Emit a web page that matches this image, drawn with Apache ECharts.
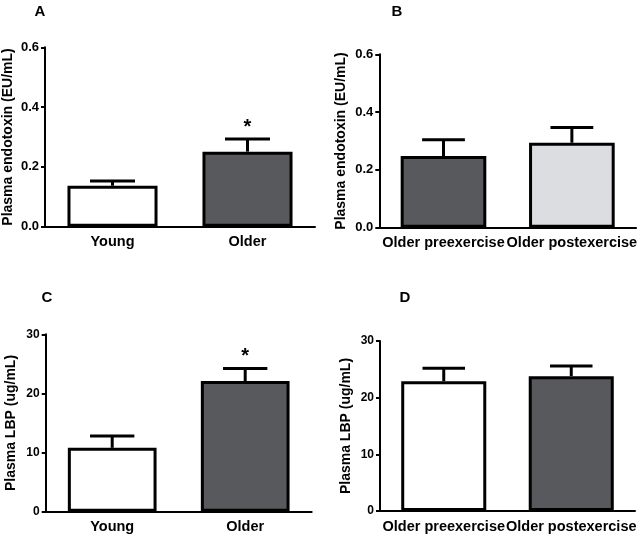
<!DOCTYPE html>
<html>
<head>
<meta charset="utf-8">
<script src="https://cdn.jsdelivr.net/npm/echarts@6/dist/echarts.min.js"></script>
<style>html,body{margin:0;padding:0;background:#fff}#c{width:640px;height:538px}</style>
</head>
<body>
<div id="c"></div>
<script>
// ---- data ----
var catsAC = ['Young', 'Older'];
var catsBD = ['Older preexercise', 'Older postexercise'];
var endoA = [0.137, 0.251];
var endoAErr = [0.016, 0.042];
var endoB = [0.248, 0.294];
var endoBErr = [0.056, 0.053];
var lbpC = [10.8, 22.1];
var lbpCErr = [2.0, 2.1];
var lbpD = [22.9, 23.8];
var lbpDErr = [2.3, 1.8];
var sigA = ['', '*'];
var sigC = ['', '*'];
var sigNone = ['', ''];
var ticksEndo = [0, 0.6, 0.2];
var ticksLbp = [0, 30, 10];
var panelLetters = ['A', 'B', 'C', 'D'];
var titleEndo = 'Plasma endotoxin (EU/mL)';
var titleLbp = 'Plasma LBP (ug/mL)';

// ---- styles ----
var FONT = '"Liberation Sans", Arial, Helvetica, sans-serif';
var WHITE = '#ffffff', DARK = '#58595c', LIGHT = '#dcdde0';
var fillA = [WHITE, DARK], fillB = [DARK, LIGHT], fillC = [WHITE, DARK], fillD = [WHITE, DARK];

var grids = [
  {left: 45, top: 47.3, width: 270, height: 179.4},
  {left: 379.3, top: 54.3, width: 257.4, height: 173.4},
  {left: 45.7, top: 334.3, width: 266, height: 177.4},
  {left: 380, top: 341, width: 255, height: 170}
];

function xAxisFor(i, cats) {
  return {
    type: 'category', gridIndex: i, data: cats,
    axisLine: {lineStyle: {color: '#000', width: 2}},
    axisTick: {show: false},
    axisLabel: {color: '#000', fontFamily: FONT, fontWeight: 'bold', fontSize: 14.5, margin: 8,
      interval: 0, hideOverlap: false}
  };
}
function yAxisFor(i, t, title, gap, fs, dec) {
  return {
    type: 'value', gridIndex: i, min: t[0], max: t[1], interval: t[2],
    name: title, nameLocation: 'middle', nameRotate: 90, nameGap: gap,
    nameTextStyle: {color: '#000', fontFamily: FONT, fontWeight: 'bold', fontSize: 14},
    axisLine: {show: true, lineStyle: {color: '#000', width: 2}},
    axisTick: {show: true, length: 4, lineStyle: {color: '#000', width: 2}},
    splitLine: {show: false},
    axisLabel: {color: '#000', fontFamily: FONT, fontWeight: 'bold', fontSize: fs, margin: 6,
      formatter: function (v) { return v.toFixed(dec); }}
  };
}

function barSeries(i, vals, fills) {
  return {
    type: 'bar', xAxisIndex: i, yAxisIndex: i, barWidth: '66.7%',
    data: vals.map(function (v, k) {
      return {value: v, itemStyle: {color: fills[k], borderColor: '#000', borderWidth: 3}};
    }),
    silent: true
  };
}
function errSeries(i, vals, errs, sigs) {
  return {
    type: 'custom', xAxisIndex: i, yAxisIndex: i, z: 5, silent: true,
    data: vals.map(function (v, k) { return [k, v, errs[k]]; }),
    renderItem: function (params, api) {
      var idx = api.value(0), m = api.value(1), e = api.value(2);
      var base = api.coord([idx, m]);
      var top = api.coord([idx, m + e]);
      var half = api.size([1, 0])[0] * 0.1667;
      var ch = [
        {type: 'line', shape: {x1: top[0], y1: base[1], x2: top[0], y2: top[1]},
          style: {stroke: '#000', lineWidth: 3}},
        {type: 'line', shape: {x1: top[0] - half, y1: top[1], x2: top[0] + half, y2: top[1]},
          style: {stroke: '#000', lineWidth: 3}}
      ];
      var s = sigs[params.dataIndex];
      if (s) {
        ch.push({type: 'text', style: {text: s, x: top[0], y: top[1] - 2, align: 'center',
          verticalAlign: 'bottom', font: 'bold 20px ' + FONT, fill: '#000'}});
      }
      return {type: 'group', children: ch};
    }
  };
}

var letterPos = [[40, 12], [397, 12], [47, 298], [405, 298]];
var graphics = panelLetters.map(function (L, k) {
  return {type: 'text', x: letterPos[k][0], y: letterPos[k][1],
    style: {text: L, font: 'bold 15px ' + FONT, fill: '#000', align: 'center', verticalAlign: 'middle'}};
});

var chart = echarts.init(document.getElementById('c'), null, {renderer: 'canvas'});
chart.setOption({
  animation: false,
  backgroundColor: '#fff',
  grid: grids,
  xAxis: [xAxisFor(0, catsAC), xAxisFor(1, catsBD), xAxisFor(2, catsAC), xAxisFor(3, catsBD)],
  yAxis: [
    yAxisFor(0, ticksEndo, titleEndo, 30, 13, 1),
    yAxisFor(1, ticksEndo, titleEndo, 31, 13, 1),
    yAxisFor(2, ticksLbp, titleLbp, 28, 12, 0),
    yAxisFor(3, ticksLbp, titleLbp, 27, 12, 0)
  ],
  graphic: graphics,
  series: [
    barSeries(0, endoA, fillA), errSeries(0, endoA, endoAErr, sigA),
    barSeries(1, endoB, fillB), errSeries(1, endoB, endoBErr, sigNone),
    barSeries(2, lbpC, fillC), errSeries(2, lbpC, lbpCErr, sigC),
    barSeries(3, lbpD, fillD), errSeries(3, lbpD, lbpDErr, sigNone)
  ]
});
</script>
</body>
</html>
